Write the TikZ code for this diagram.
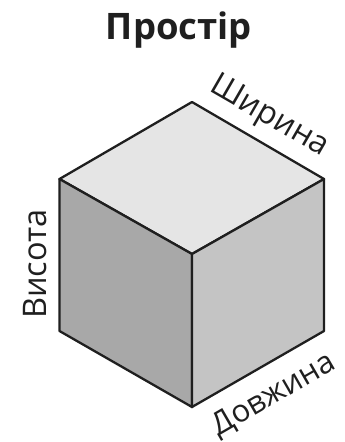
\documentclass[tikz,border=0pt]{standalone}
\usepackage{fontspec}
\setmainfont{Open Sans}
\tikzset{
  face/.style={draw=black!88,line width=2.3pt,line join=round},
  lab/.style={inner sep=0pt,text=black!88,font=\fontsize{32.5}{32.5}\selectfont},
  ttl/.style={inner sep=0pt,text=black!88,font=\fontsize{36.5}{36.5}\selectfont\bfseries}
}
\begin{document}
\begin{tikzpicture}[x=1pt,y=-1pt]
\useasboundingbox (0,0) rectangle (345,442);
\coordinate (T) at (192,102);
\coordinate (R) at (324,179);
\coordinate (L) at (59.5,179);
\coordinate (C) at (192,254);
\coordinate (B) at (192,407);
\coordinate (LB) at (59.5,331);
\coordinate (RB) at (324,331);
\draw[face,fill=black!10] (T) -- (R) -- (C) -- (L) -- cycle;
\draw[face,fill=black!34] (L) -- (C) -- (B) -- (LB) -- cycle;
\draw[face,fill=black!23] (R) -- (C) -- (B) -- (RB) -- cycle;
\node[ttl] (title) at (179,30) {Простір};
\node[lab,rotate=-30,font=\fontsize{32}{32}\selectfont] (w) at (269,117) {Ширина};
\node[lab,rotate=90] (h) at (35,264) {Висота};
\node[lab,rotate=30,font=\fontsize{31}{31}\selectfont] (d) at (274,395) {Довжина};
\end{tikzpicture}
\end{document}
